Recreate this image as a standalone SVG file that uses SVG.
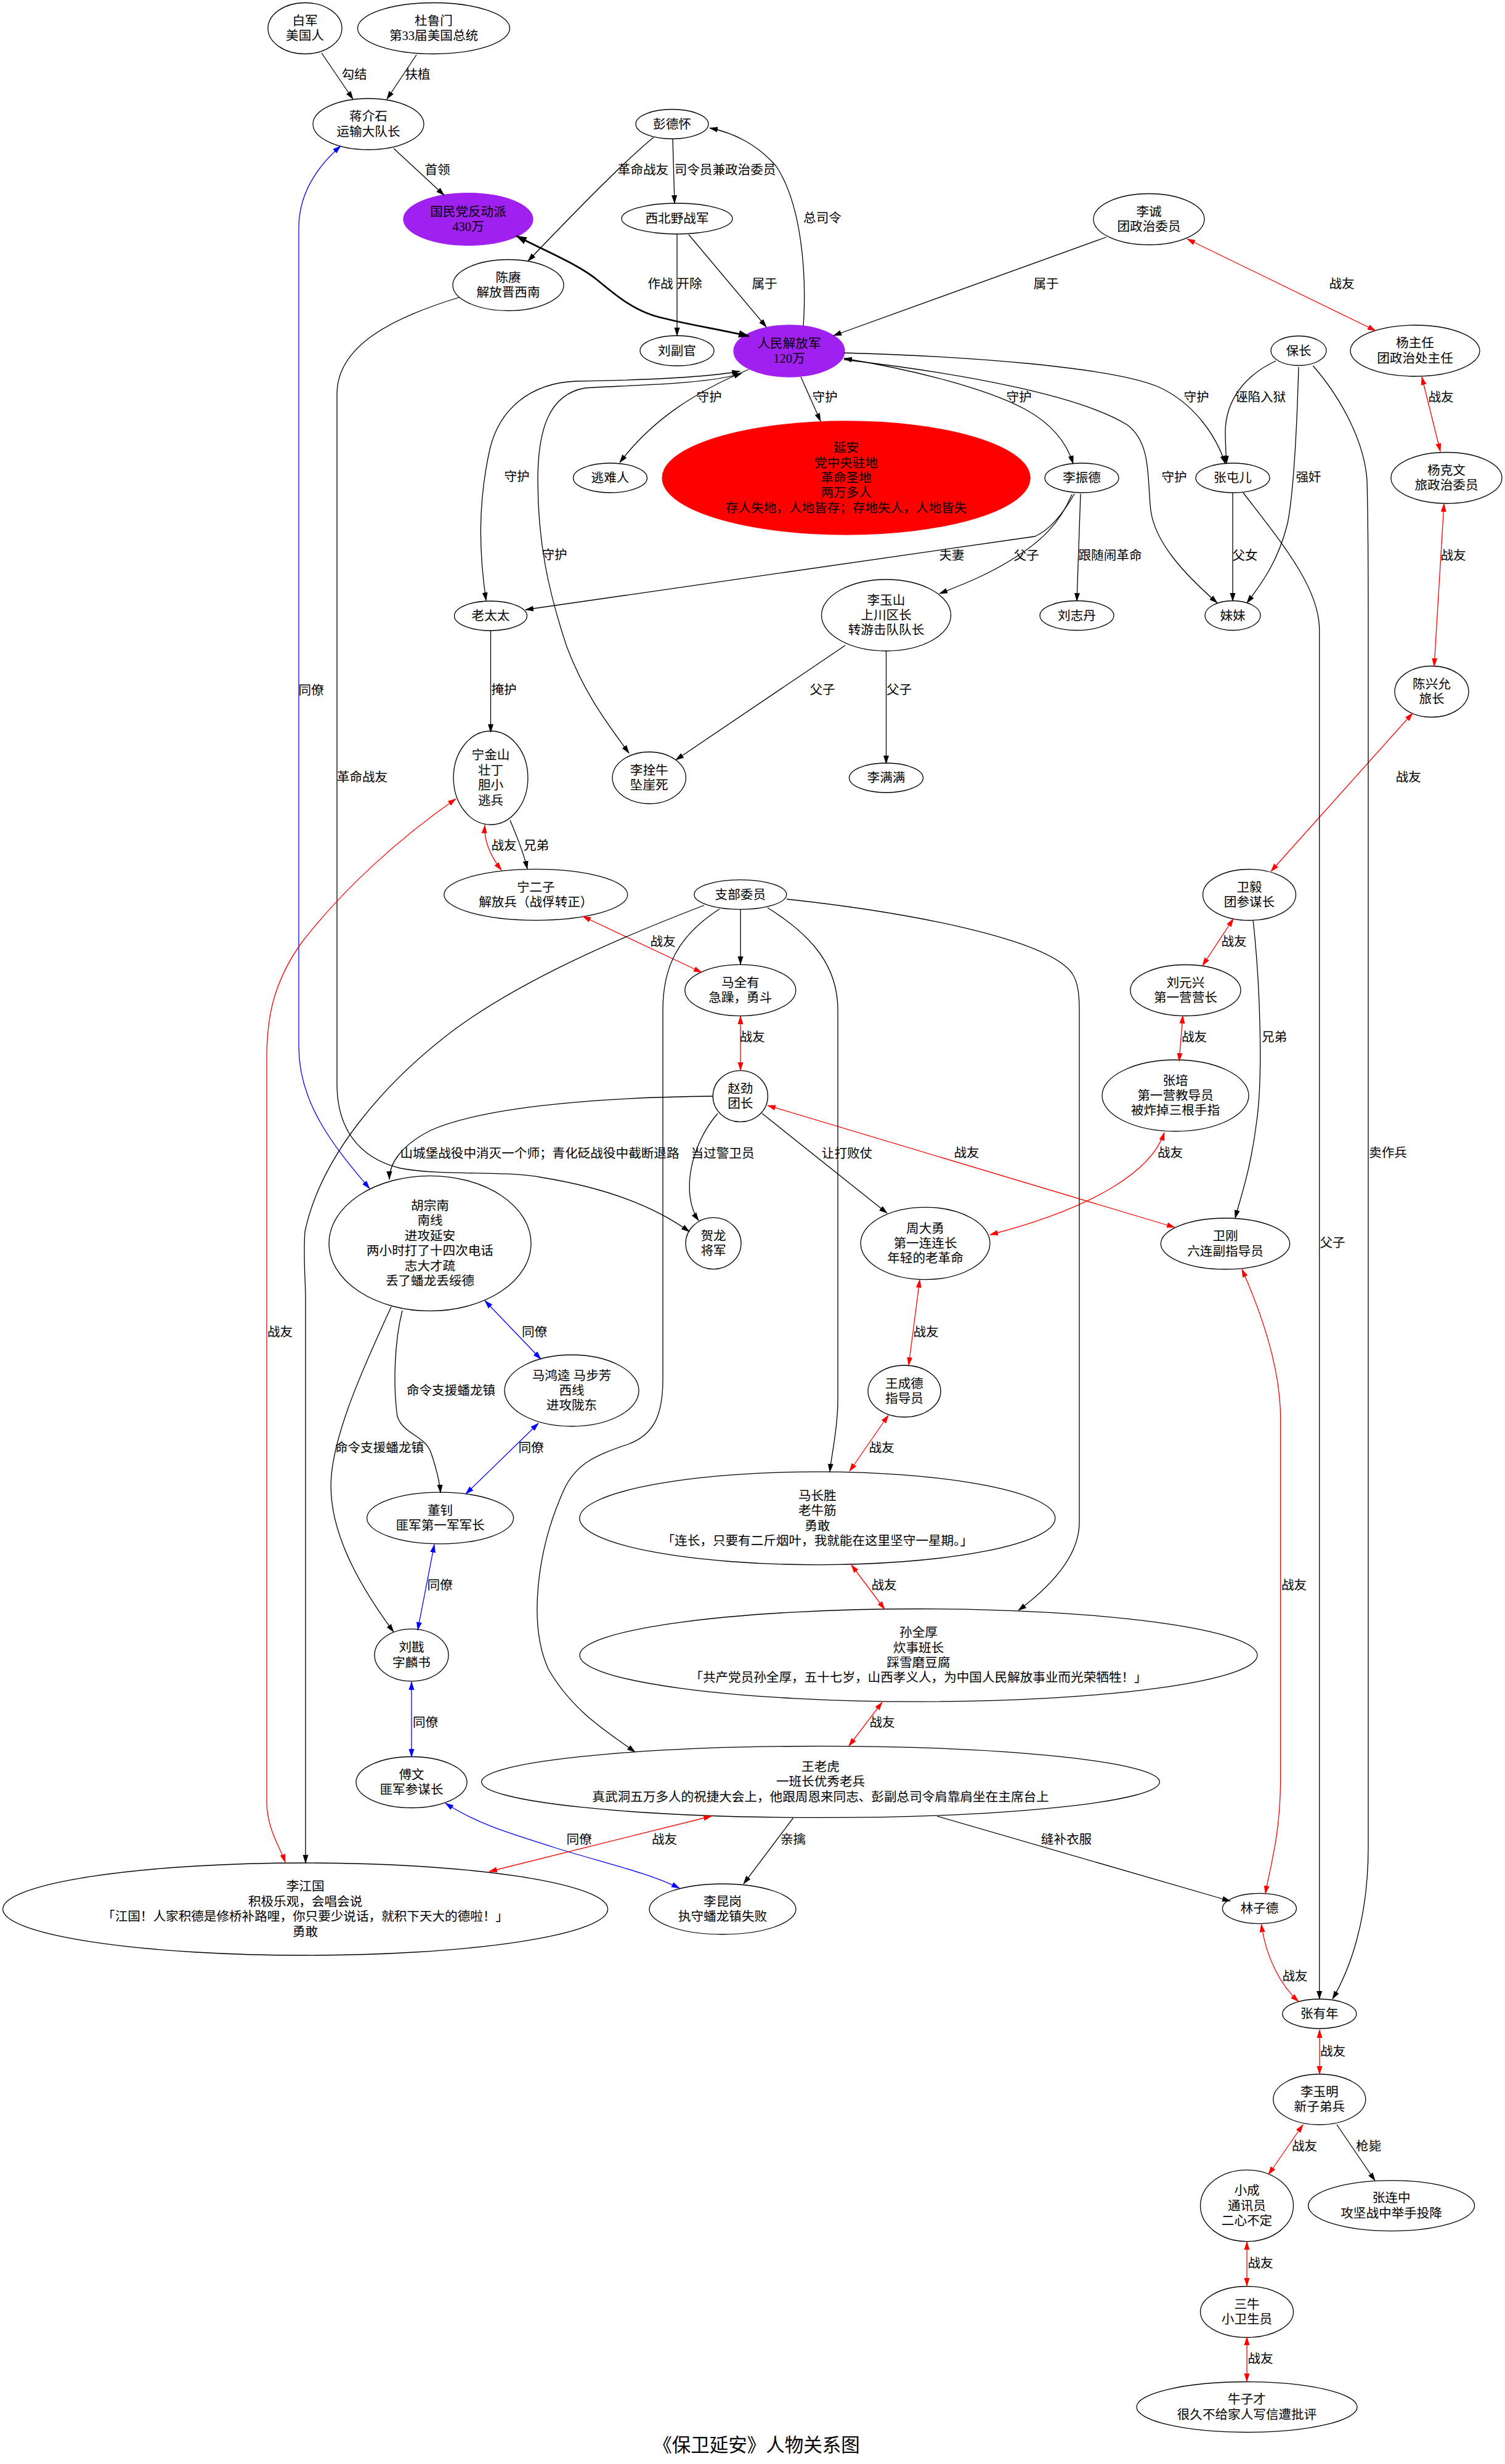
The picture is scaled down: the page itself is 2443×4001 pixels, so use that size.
<svg xmlns="http://www.w3.org/2000/svg" width="2443" height="4001" viewBox="0 0 2443 4001">
<style>
text{font-family:"Liberation Serif","Noto Sans CJK SC",serif;font-size:20.6px;text-anchor:middle;fill:#000}
.n ellipse{fill:#fff;stroke:#000;stroke-width:1.3}
.n ellipse.p{fill:#a020f0;stroke:#a020f0}
.n ellipse.rd{fill:#ff0000;stroke:#ff0000}
#edges path{fill:none;stroke:#000;stroke-width:1.3}
#edges path.r{stroke:#ff0000}
#edges path.b{stroke:#0000ff}
#edges path.t{stroke-width:2.7}
.k{marker-end:url(#ak)}
.kk{marker-start:url(#ak);marker-end:url(#ak)}
.r{marker-start:url(#ar);marker-end:url(#ar)}
.b{marker-start:url(#ab);marker-end:url(#ab)}
.t{marker-start:url(#at);marker-end:url(#at)}
</style>
<defs>
<marker id="ak" viewBox="0 0 14 10" refX="13" refY="5" markerWidth="14" markerHeight="10" markerUnits="userSpaceOnUse" orient="auto-start-reverse"><path d="M0,0.5 L14,5 L0,9.5 z" fill="#000"/></marker>
<marker id="ar" viewBox="0 0 14 10" refX="13" refY="5" markerWidth="14" markerHeight="10" markerUnits="userSpaceOnUse" orient="auto-start-reverse"><path d="M0,0.5 L14,5 L0,9.5 z" fill="#ff0000"/></marker>
<marker id="ab" viewBox="0 0 14 10" refX="13" refY="5" markerWidth="14" markerHeight="10" markerUnits="userSpaceOnUse" orient="auto-start-reverse"><path d="M0,0.5 L14,5 L0,9.5 z" fill="#0000ff"/></marker>
<marker id="at" viewBox="0 0 18 13" refX="17" refY="6.5" markerWidth="18" markerHeight="13" markerUnits="userSpaceOnUse" orient="auto-start-reverse"><path d="M0,0.5 L18,6.5 L0,12.5 z" fill="#000"/></marker>
</defs>
<rect x="0" y="0" width="2443" height="4001" fill="#fff"/>
<g id="nodes">
<g id="n1" class="n"><ellipse cx="495" cy="46" rx="60" ry="41.5"/><text x="495" y="40.8">白军<tspan x="495" dy="24.4">美国人</tspan></text></g>
<g id="n2" class="n"><ellipse cx="704" cy="46" rx="123.5" ry="41.5"/><text x="704" y="40.8">杜鲁门<tspan x="704" dy="24.4">第33届美国总统</tspan></text></g>
<g id="n3" class="n"><ellipse cx="598" cy="201.5" rx="90" ry="41.5"/><text x="598" y="196.3">蒋介石<tspan x="598" dy="24.4">运输大队长</tspan></text></g>
<g id="n4" class="n"><ellipse class="p" cx="760" cy="356" rx="105" ry="42.4"/><text x="760" y="350.8">国民党反动派<tspan x="760" dy="24.4">430万</tspan></text></g>
<g id="n5" class="n"><ellipse cx="1091" cy="201.5" rx="59" ry="24"/><text x="1091" y="208.5">彭德怀</text></g>
<g id="n6" class="n"><ellipse cx="1099" cy="355" rx="90" ry="25"/><text x="1099" y="362">西北野战军</text></g>
<g id="n7" class="n"><ellipse cx="825" cy="463" rx="90" ry="41.5"/><text x="825" y="457.8">陈赓<tspan x="825" dy="24.4">解放晋西南</tspan></text></g>
<g id="n8" class="n"><ellipse cx="1099" cy="569.5" rx="60" ry="24.5"/><text x="1099" y="576.5">刘副官</text></g>
<g id="n9" class="n"><ellipse class="p" cx="1281" cy="570" rx="90" ry="42"/><text x="1281" y="564.8">人民解放军<tspan x="1281" dy="24.4">120万</tspan></text></g>
<g id="n10" class="n"><ellipse cx="1865" cy="356" rx="90" ry="41.5"/><text x="1865" y="350.8">李诚<tspan x="1865" dy="24.4">团政治委员</tspan></text></g>
<g id="n11" class="n"><ellipse cx="2297" cy="569.5" rx="105" ry="41.5"/><text x="2297" y="564.3">杨主任<tspan x="2297" dy="24.4">团政治处主任</tspan></text></g>
<g id="n12" class="n"><ellipse cx="2108" cy="569.5" rx="45" ry="24"/><text x="2108" y="576.5">保长</text></g>
<g id="n13" class="n"><ellipse cx="990.5" cy="776" rx="60" ry="24"/><text x="990.5" y="783">逃难人</text></g>
<g id="n14" class="n"><ellipse class="rd" cx="1373.6" cy="776" rx="298.5" ry="92"/><text x="1373.6" y="734.2">延安<tspan x="1373.6" dy="24.4">党中央驻地</tspan><tspan x="1373.6" dy="24.4">革命圣地</tspan><tspan x="1373.6" dy="24.4">两万多人</tspan><tspan x="1373.6" dy="24.4">存人失地，人地皆存；存地失人，人地皆失</tspan></text></g>
<g id="n15" class="n"><ellipse cx="1756" cy="776" rx="60" ry="24"/><text x="1756" y="783">李振德</text></g>
<g id="n16" class="n"><ellipse cx="2001" cy="776" rx="60" ry="24"/><text x="2001" y="783">张屯儿</text></g>
<g id="n17" class="n"><ellipse cx="2348" cy="776" rx="90" ry="41.5"/><text x="2348" y="770.8">杨克文<tspan x="2348" dy="24.4">旅政治委员</tspan></text></g>
<g id="n18" class="n"><ellipse cx="796.5" cy="1000" rx="59" ry="24"/><text x="796.5" y="1007">老太太</text></g>
<g id="n19" class="n"><ellipse cx="1438.5" cy="999" rx="105" ry="58"/><text x="1438.5" y="981.6">李玉山<tspan x="1438.5" dy="24.4">上川区长</tspan><tspan x="1438.5" dy="24.4">转游击队队长</tspan></text></g>
<g id="n20" class="n"><ellipse cx="1748" cy="999.5" rx="60" ry="24"/><text x="1748" y="1006.5">刘志丹</text></g>
<g id="n21" class="n"><ellipse cx="2001" cy="999.5" rx="45" ry="24"/><text x="2001" y="1006.5">妹妹</text></g>
<g id="n22" class="n"><ellipse cx="2324" cy="1123" rx="60" ry="41.5"/><text x="2324" y="1117.8">陈兴允<tspan x="2324" dy="24.4">旅长</tspan></text></g>
<g id="n23" class="n"><ellipse cx="796.5" cy="1263" rx="60.4" ry="76"/><text x="796.5" y="1233.4">宁金山<tspan x="796.5" dy="24.4">壮丁</tspan><tspan x="796.5" dy="24.4">胆小</tspan><tspan x="796.5" dy="24.4">逃兵</tspan></text></g>
<g id="n24" class="n"><ellipse cx="1053.7" cy="1263" rx="59.6" ry="42"/><text x="1053.7" y="1257.8">李拴牛<tspan x="1053.7" dy="24.4">坠崖死</tspan></text></g>
<g id="n25" class="n"><ellipse cx="1438.5" cy="1263" rx="60" ry="24"/><text x="1438.5" y="1270">李满满</text></g>
<g id="n26" class="n"><ellipse cx="869.8" cy="1452.8" rx="149" ry="41.5"/><text x="869.8" y="1447.6">宁二子<tspan x="869.8" dy="24.4">解放兵（战俘转正）</tspan></text></g>
<g id="n27" class="n"><ellipse cx="1201.8" cy="1452.6" rx="75" ry="24"/><text x="1201.8" y="1459.6">支部委员</text></g>
<g id="n28" class="n"><ellipse cx="2028" cy="1453" rx="75.5" ry="41.5"/><text x="2028" y="1447.8">卫毅<tspan x="2028" dy="24.4">团参谋长</tspan></text></g>
<g id="n29" class="n"><ellipse cx="1201.8" cy="1608" rx="90" ry="41.6"/><text x="1201.8" y="1602.8">马全有<tspan x="1201.8" dy="24.4">急躁，勇斗</tspan></text></g>
<g id="n30" class="n"><ellipse cx="1924.4" cy="1608" rx="89.6" ry="41.5"/><text x="1924.4" y="1602.8">刘元兴<tspan x="1924.4" dy="24.4">第一营营长</tspan></text></g>
<g id="n31" class="n"><ellipse cx="1201.8" cy="1780" rx="44.6" ry="41.6"/><text x="1201.8" y="1774.8">赵劲<tspan x="1201.8" dy="24.4">团长</tspan></text></g>
<g id="n32" class="n"><ellipse cx="1908" cy="1779" rx="119" ry="58"/><text x="1908" y="1761.6">张培<tspan x="1908" dy="24.4">第一营教导员</tspan><tspan x="1908" dy="24.4">被炸掉三根手指</tspan></text></g>
<g id="n33" class="n"><ellipse cx="698" cy="2019" rx="164" ry="109.7"/><text x="698" y="1965">胡宗南<tspan x="698" dy="24.4">南线</tspan><tspan x="698" dy="24.4">进攻延安</tspan><tspan x="698" dy="24.4">两小时打了十四次电话</tspan><tspan x="698" dy="24.4">志大才疏</tspan><tspan x="698" dy="24.4">丢了蟠龙丢绥德</tspan></text></g>
<g id="n34" class="n"><ellipse cx="1158" cy="2019" rx="45" ry="41.8"/><text x="1158" y="2013.8">贺龙<tspan x="1158" dy="24.4">将军</tspan></text></g>
<g id="n35" class="n"><ellipse cx="1502" cy="2019" rx="105" ry="58.7"/><text x="1502" y="2001.6">周大勇<tspan x="1502" dy="24.4">第一连连长</tspan><tspan x="1502" dy="24.4">年轻的老革命</tspan></text></g>
<g id="n36" class="n"><ellipse cx="1989" cy="2019.5" rx="104.7" ry="41.5"/><text x="1989" y="2014.3">卫刚<tspan x="1989" dy="24.4">六连副指导员</tspan></text></g>
<g id="n37" class="n"><ellipse cx="928" cy="2258" rx="109" ry="58"/><text x="928" y="2240.6">马鸿逵 马步芳<tspan x="928" dy="24.4">西线</tspan><tspan x="928" dy="24.4">进攻陇东</tspan></text></g>
<g id="n38" class="n"><ellipse cx="1468" cy="2259" rx="59" ry="42"/><text x="1468" y="2253.8">王成德<tspan x="1468" dy="24.4">指导员</tspan></text></g>
<g id="n39" class="n"><ellipse cx="714.6" cy="2465" rx="119" ry="41.8"/><text x="714.6" y="2459.8">董钊<tspan x="714.6" dy="24.4">匪军第一军军长</tspan></text></g>
<g id="n40" class="n"><ellipse cx="1326.8" cy="2465.3" rx="386" ry="75.5"/><text x="1326.8" y="2435.7">马长胜<tspan x="1326.8" dy="24.4">老牛筋</tspan><tspan x="1326.8" dy="24.4">勇敢</tspan><tspan x="1326.8" dy="24.4">「连长，只要有二斤烟叶，我就能在这里坚守一星期。」</tspan></text></g>
<g id="n41" class="n"><ellipse cx="668" cy="2687.5" rx="60" ry="42.4"/><text x="668" y="2682.3">刘戡<tspan x="668" dy="24.4">字麟书</tspan></text></g>
<g id="n42" class="n"><ellipse cx="1491" cy="2687.8" rx="550" ry="75.3"/><text x="1491" y="2658.2">孙全厚<tspan x="1491" dy="24.4">炊事班长</tspan><tspan x="1491" dy="24.4">踩雪磨豆腐</tspan><tspan x="1491" dy="24.4">「共产党员孙全厚，五十七岁，山西孝义人，为中国人民解放事业而光荣牺牲！」</tspan></text></g>
<g id="n43" class="n"><ellipse cx="668" cy="2894" rx="90" ry="41.5"/><text x="668" y="2888.8">傅文<tspan x="668" dy="24.4">匪军参谋长</tspan></text></g>
<g id="n44" class="n"><ellipse cx="1332" cy="2893.4" rx="550.4" ry="58"/><text x="1332" y="2876">王老虎<tspan x="1332" dy="24.4">一班长优秀老兵</tspan><tspan x="1332" dy="24.4">真武洞五万多人的祝捷大会上，他跟周恩来同志、彭副总司令肩靠肩坐在主席台上</tspan></text></g>
<g id="n45" class="n"><ellipse cx="495.6" cy="3100" rx="491" ry="75"/><text x="495.6" y="3070.4">李江国<tspan x="495.6" dy="24.4">积极乐观，会唱会说</tspan><tspan x="495.6" dy="24.4">「江国！人家积德是修桥补路哩，你只要少说话，就积下天大的德啦！」</tspan><tspan x="495.6" dy="24.4">勇敢</tspan></text></g>
<g id="n46" class="n"><ellipse cx="1173" cy="3100" rx="119" ry="41"/><text x="1173" y="3094.8">李昆岗<tspan x="1173" dy="24.4">执守蟠龙镇失败</tspan></text></g>
<g id="n47" class="n"><ellipse cx="2044.4" cy="3099" rx="60" ry="24.6"/><text x="2044.4" y="3106">林子德</text></g>
<g id="n48" class="n"><ellipse cx="2141.8" cy="3270" rx="60" ry="24"/><text x="2141.8" y="3277">张有年</text></g>
<g id="n49" class="n"><ellipse cx="2141.8" cy="3409" rx="75" ry="41"/><text x="2141.8" y="3403.8">李玉明<tspan x="2141.8" dy="24.4">新子弟兵</tspan></text></g>
<g id="n50" class="n"><ellipse cx="2024" cy="3581.6" rx="75.5" ry="58"/><text x="2024" y="3564.2">小成<tspan x="2024" dy="24.4">通讯员</tspan><tspan x="2024" dy="24.4">二心不定</tspan></text></g>
<g id="n51" class="n"><ellipse cx="2258.6" cy="3581.6" rx="135" ry="41"/><text x="2258.6" y="3576.4">张连中<tspan x="2258.6" dy="24.4">攻坚战中举手投降</tspan></text></g>
<g id="n52" class="n"><ellipse cx="2024" cy="3754" rx="75.5" ry="41.5"/><text x="2024" y="3748.8">三牛<tspan x="2024" dy="24.4">小卫生员</tspan></text></g>
<g id="n53" class="n"><ellipse cx="2024" cy="3908.5" rx="179" ry="41"/><text x="2024" y="3903.3">牛子才<tspan x="2024" dy="24.4">很久不给家人写信遭批评</tspan></text></g>
</g>
<g id="edges">
<path class="k" d="M522,86 L573,161"/>
<path class="k" d="M676,89 L628,161"/>
<path class="k" d="M639,241 L721,317"/>
<path class="t" d="M838,383 C890,410 940,430 970,455 C1000,480 1030,505 1070,515 C1120,528 1170,535 1216,546"/>
<path class="k" d="M1061,223 C1030,248 980,295 857,424"/>
<path class="k" d="M1092,226 L1095,330"/>
<path class="k" d="M1304,529 C1310,440 1300,330 1260,270 C1230,235 1190,215 1152,208"/>
<path class="k" d="M1099,380 L1099,545"/>
<path class="k" d="M1118,381 L1244,531"/>
<path class="k" d="M1796,385 L1353,545"/>
<path class="r" d="M1927,388 L2233,537"/>
<path class="r" d="M2308,612 L2338,733"/>
<path class="r" d="M2344,818 L2328,1082"/>
<path class="r" d="M2293,1158 L2063,1415"/>
<path class="r" d="M2002,1492 L1952,1568"/>
<path class="r" d="M1920,1649 L1914,1723"/>
<path class="r" d="M1890,1839 C1870,1900 1780,1960 1607,2005"/>
<path class="k" d="M2034,1494 C2046,1600 2050,1750 2040,1820 C2030,1900 2015,1940 2005,1978"/>
<path class="r" d="M1246,1795 L1907,1993"/>
<path class="r" d="M1202,1650 L1202,1738"/>
<path class="r" d="M946,1488 L1139,1579"/>
<path class="k" d="M1202,1477 L1202,1566"/>
<path class="k" d="M1143,1470 C1000,1525 850,1590 740,1670 C620,1760 520,1880 495,2000 C492,2040 496,2080 496,2110 L496,3025"/>
<path class="k" d="M1168,1476 C1100,1520 1076,1570 1076,1640 L1076,2240 C1076,2300 1060,2330 1020,2345 C970,2362 935,2375 915,2420 C870,2520 858,2640 890,2710 C930,2780 990,2815 1031,2845"/>
<path class="k" d="M1246,1474 C1320,1520 1360,1570 1360,1640 L1360,2274 C1360,2320 1350,2360 1347,2390"/>
<path class="k" d="M1277,1460 C1480,1482 1700,1525 1740,1580 C1750,1595 1752,1615 1752,1640 L1752,2472 C1752,2530 1700,2580 1653,2615"/>
<path class="k" d="M1157,1780 C950,1782 780,1800 700,1835 C650,1860 632,1890 632,1915"/>
<path class="k" d="M1165,1808 C1120,1860 1105,1940 1134,1982"/>
<path class="k" d="M1237,1808 L1440,1970"/>
<path class="k" d="M745,483 C640,515 547,560 547,640 L547,1760 C547,1830 580,1880 650,1897 C720,1910 820,1900 880,1912 C960,1925 1050,1950 1119,2000"/>
<path class="b" d="M553,237 C510,275 485,320 485,370 L485,1700 C485,1790 540,1860 600,1930"/>
<path class="r" d="M740,1297 C650,1360 560,1440 490,1530 C440,1600 433,1660 433,1720 L433,2925 C433,2970 455,3000 463,3024"/>
<path class="r" d="M787,1340 C785,1370 800,1395 814,1413"/>
<path class="k" d="M828,1332 C840,1360 850,1385 856,1411"/>
<path class="k" d="M796.5,1024 L796.5,1189"/>
<path class="k" d="M1300,612 L1332,684"/>
<path class="k" d="M1215,600 C1130,636 1060,680 1006,751"/>
<path class="kk" d="M1201,603 C1130,615 1000,618 935,619 C860,622 810,665 795,730 C775,820 778,900 789,975"/>
<path class="kk" d="M1204,606 C1150,625 1000,626 950,630 C890,640 873,700 873,780 C873,880 890,960 920,1050 C950,1130 990,1180 1021,1223"/>
<path class="kk" d="M1370,582 C1480,600 1600,630 1665,665 C1710,690 1732,720 1742,753"/>
<path class="k" d="M1370,573 C1560,578 1800,595 1880,628 C1940,655 1975,710 1989,753"/>
<path class="k" d="M1370,584 C1550,605 1750,640 1830,690 C1870,720 1862,780 1868,829 C1875,880 1920,930 1976,979"/>
<path class="k" d="M2071,586 C2020,610 1990,650 1989,700 C1989,720 1990,735 1991,753"/>
<path class="k" d="M2108,596 C2105,700 2100,800 2090,850 C2075,910 2050,945 2024,979"/>
<path class="k" d="M2001,800 L2001,976"/>
<path class="k" d="M2018,800 C2075,875 2140,950 2141.7,1020 L2141.7,3246"/>
<path class="k" d="M2131.5,594 C2180,650 2215,720 2219,780 C2221,850 2221,900 2221,1000 L2221,3000 C2221,3120 2190,3200 2163,3246"/>
<path class="k" d="M1744,802 C1725,835 1705,860 1680,871 L853,990"/>
<path class="k" d="M1740,803 C1720,850 1690,880 1640,910 C1600,935 1560,950 1525,964"/>
<path class="k" d="M1754,802 L1748,976"/>
<path class="k" d="M1372,1048 L1097,1234"/>
<path class="k" d="M1438.5,1057 L1438.5,1240"/>
<path class="b" d="M787,2112 L878,2207"/>
<path class="b" d="M874,2311 L756,2426"/>
<path class="b" d="M705,2508 L678,2647"/>
<path class="b" d="M668,2731 L668,2853"/>
<path class="b" d="M723,2928 C780,2965 840,2980 900,3000 C980,3025 1050,3040 1103,3066"/>
<path class="k" d="M653,2128 C640,2180 638,2250 645,2300 C655,2330 690,2330 700,2360 C710,2390 714,2410 715,2424"/>
<path class="k" d="M635,2122 C590,2220 545,2320 538,2395 C530,2480 580,2570 639,2650"/>
<path class="r" d="M1493,2078 L1475,2217"/>
<path class="r" d="M1442,2298 L1379,2389"/>
<path class="r" d="M1382,2541 L1436,2613"/>
<path class="r" d="M1432,2764 L1378,2835"/>
<path class="r" d="M1155,2949 L794,3039"/>
<path class="k" d="M1287.5,2952 L1207,3059"/>
<path class="k" d="M1521,2949 L1997,3087"/>
<path class="r" d="M2016,2061 C2060,2160 2078,2240 2078.6,2300 L2078.6,2893 C2078,2980 2062,3030 2054,3075"/>
<path class="r" d="M2047.5,3124.5 C2055,3180 2080,3225 2108,3250"/>
<path class="r" d="M2142,3296 L2142,3368"/>
<path class="r" d="M2115,3450 L2059,3531"/>
<path class="k" d="M2170,3450 L2232,3541"/>
<path class="r" d="M2024,3640 L2024,3712"/>
<path class="r" d="M2024,3795 L2024,3867"/>
</g>
<g id="edge-labels">
<text x="575" y="128">勾结</text>
<text x="678" y="128">扶植</text>
<text x="710" y="283">首领</text>
<text x="1044" y="283">革命战友</text>
<text x="1177" y="283">司令员兼政治委员</text>
<text x="1335" y="361">总司令</text>
<text x="1072" y="468">作战</text>
<text x="1119" y="468">开除</text>
<text x="1241" y="468">属于</text>
<text x="1698" y="468">属于</text>
<text x="2178" y="468">战友</text>
<text x="1339" y="652">守护</text>
<text x="1151" y="652">守护</text>
<text x="1654" y="652">守护</text>
<text x="1942" y="652">守护</text>
<text x="2046" y="652">诬陷入狱</text>
<text x="2339" y="652">战友</text>
<text x="839" y="781">守护</text>
<text x="1906" y="782">守护</text>
<text x="2124" y="782">强奸</text>
<text x="900" y="908">守护</text>
<text x="1545" y="909">夫妻</text>
<text x="1666" y="909">父子</text>
<text x="1802" y="909">跟随闹革命</text>
<text x="2021" y="909">父女</text>
<text x="2359" y="909">战友</text>
<text x="818" y="1127">掩护</text>
<text x="1335" y="1127">父子</text>
<text x="1459.5" y="1127">父子</text>
<text x="505" y="1128">同僚</text>
<text x="588" y="1269">革命战友</text>
<text x="2286" y="1269">战友</text>
<text x="818" y="1380">战友</text>
<text x="870.5" y="1380">兄弟</text>
<text x="1076" y="1536">战友</text>
<text x="2003" y="1536">战友</text>
<text x="1221" y="1691">战友</text>
<text x="1938.5" y="1691">战友</text>
<text x="2068.5" y="1691">兄弟</text>
<text x="876" y="1880">山城堡战役中消灭一个师；青化砭战役中截断退路</text>
<text x="1173" y="1880">当过警卫员</text>
<text x="1375" y="1880">让打败仗</text>
<text x="1569" y="1879">战友</text>
<text x="1899.5" y="1879">战友</text>
<text x="2253" y="1879">卖作兵</text>
<text x="2163" y="2025">父子</text>
<text x="454.5" y="2170">战友</text>
<text x="867.5" y="2170">同僚</text>
<text x="1503" y="2170">战友</text>
<text x="732" y="2265">命令支援蟠龙镇</text>
<text x="616" y="2358">命令支援蟠龙镇</text>
<text x="862" y="2358">同僚</text>
<text x="1431" y="2358">战友</text>
<text x="714" y="2581">同僚</text>
<text x="1435" y="2581">战友</text>
<text x="2100.5" y="2581">战友</text>
<text x="690.5" y="2804">同僚</text>
<text x="1432" y="2804">战友</text>
<text x="940" y="2994">同僚</text>
<text x="1078.5" y="2994">战友</text>
<text x="1287.5" y="2994">亲擒</text>
<text x="1731" y="2994">缝补衣服</text>
<text x="2102" y="3216">战友</text>
<text x="2163.5" y="3338">战友</text>
<text x="2117.5" y="3492">战友</text>
<text x="2221.5" y="3492">枪毙</text>
<text x="2046" y="3682">战友</text>
<text x="2046" y="3837">战友</text>
</g>
<g id="title"><text x="1228" y="3981" style="font-size:30.5px">《保卫延安》人物关系图</text></g>
</svg>
